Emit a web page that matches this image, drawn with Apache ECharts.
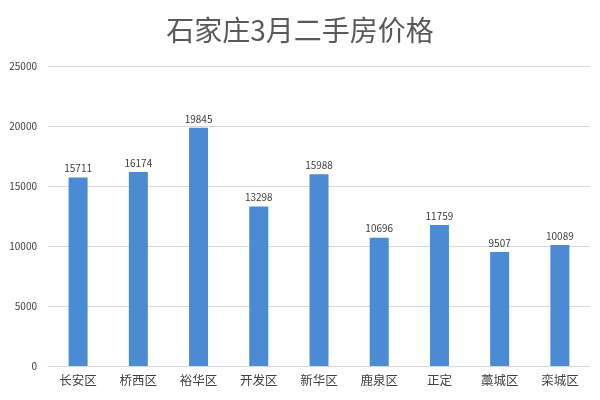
<!DOCTYPE html>
<html><head><meta charset="utf-8">
<script src="https://cdn.jsdelivr.net/npm/echarts@6/dist/echarts.min.js"></script>
<style>html,body{margin:0;padding:0;background:#fff}#c{width:600px;height:400px}</style>
</head><body><div id="c"></div>
<script>
const categories = ['长安区','桥西区','裕华区','开发区','新华区','鹿泉区','正定','藁城区','栾城区'];
const prices = [15711,16174,19845,13298,15988,10696,11759,9507,10089];
const titleText = '石家庄3月二手房价格';
const font = '"Noto Sans CJK SC", "Noto Sans", sans-serif';
const chart = echarts.init(document.getElementById('c'));
chart.setOption({
  backgroundColor:'#ffffff',
  animation:false,
  title:{text:titleText,left:'center',top:11,textStyle:{fontFamily:font,fontSize:28,fontWeight:'normal',color:'#595959'}},
  grid:{left:48,right:10,top:66,bottom:34},
  xAxis:{type:'category',data:categories,axisTick:{show:false},
    axisLine:{lineStyle:{color:'#d9d9d9'}},
    axisLabel:{fontFamily:font,fontSize:12.5,color:'#404040',margin:8}},
  yAxis:{type:'value',min:0,max:25000,interval:5000,
    axisLabel:{fontFamily:font,fontSize:10,color:'#404040',margin:11,formatter:function(v){return String(v);}},
    splitLine:{lineStyle:{color:'#d9d9d9'}}},
  series:[{type:'bar',data:prices,barWidth:19,itemStyle:{color:'#4a8bd3'},
    label:{show:true,position:'top',fontFamily:font,fontSize:10,color:'#404040',distance:4}}]
});
</script></body></html>
